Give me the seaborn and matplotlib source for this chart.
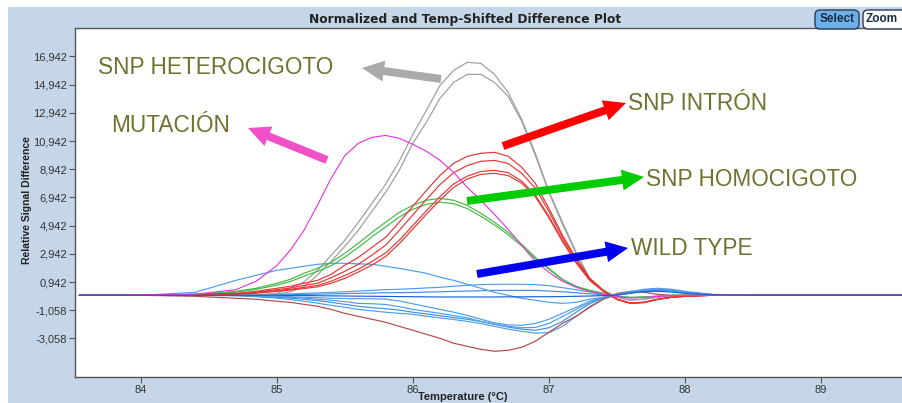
import matplotlib
matplotlib.use("Agg")
import numpy as np
import pandas as pd
import seaborn as sns
import matplotlib.pyplot as plt
from matplotlib.patches import FancyArrow, Rectangle, FancyBboxPatch
from matplotlib.transforms import IdentityTransform

# ---------------- data ----------------
temps = [83.55, 84.0, 84.4, 84.7, 84.85, 85.0, 85.1, 85.2, 85.3, 85.4, 85.5, 85.6, 85.7, 85.8,
         85.9, 86.0, 86.1, 86.2, 86.3, 86.4, 86.5, 86.6, 86.7, 86.8, 86.9, 87.0, 87.1, 87.2,
         87.3, 87.4, 87.5, 87.6, 87.7, 87.8, 87.9, 88.0, 88.2, 88.5, 89.0, 89.65]

het_1 = [0, 0, 0, 0, 40, 140, 500, 950, 1770, 2840, 3900, 5180, 6520, 7870, 9500, 11410, 13120,
         14890, 15950, 16520, 16450, 15670, 14390, 12480, 10070, 7370, 5180, 3050, 1200, 350,
         -140, -350, -280, -140, -70, 0, 0, 0, 0, 0]
het_2 = [0, 0, 0, 0, 20, 80, 250, 600, 1450, 2410, 3470, 4610, 5960, 7300, 8860, 10780, 12270,
         13970, 15100, 15670, 15670, 15100, 14110, 12340, 9930, 7300, 5030, 2980, 1130, 350,
         -140, -330, -260, -130, -60, 0, 0, 0, 0, 0]
mutacion = [0, 0, 80, 400, 1000, 2100, 3200, 4600, 6400, 8300, 9900, 10780, 11200, 11340, 11130,
            10710, 10210, 9570, 8720, 7660, 6740, 5740, 4680, 3550, 2410, 1630, 990, 570, 280,
            70, -100, -200, -150, -80, -30, 0, 0, 0, 0, 0]
homo_1 = [0, 0, 70, 280, 500, 850, 1130, 1560, 1910, 2340, 2980, 3690, 4470, 5180, 5880, 6380,
          6740, 6880, 6740, 6380, 5810, 5180, 4470, 3620, 2690, 1910, 1130, 640, 350, 140, -70,
          -150, -120, -60, 0, 0, 0, 0, 0, 0]
homo_2 = [0, 0, 50, 220, 420, 720, 980, 1350, 1700, 2100, 2700, 3400, 4150, 4850, 5550, 6100,
          6450, 6600, 6500, 6150, 5600, 5000, 4300, 3500, 2600, 1850, 1100, 620, 330, 130, -70,
          -150, -120, -60, 0, 0, 0, 0, 0, 0]
intron_1 = [0, 0, 70, 140, 280, 500, 640, 850, 1060, 1490, 2130, 2690, 3400, 4110, 5180, 6310,
            7440, 8510, 9360, 9860, 10070, 10140, 9860, 9080, 7940, 6170, 4250, 2620, 1210, 350,
            -280, -570, -500, -280, -140, -70, 0, 0, 0, 0]
intron_2 = [0, 0, 50, 110, 220, 400, 520, 700, 850, 1250, 1700, 2200, 2850, 3550, 4600, 5700,
            6800, 7850, 8700, 9200, 9500, 9570, 9350, 8650, 7600, 5950, 4100, 2500, 1150, 320,
            -280, -560, -500, -290, -140, -70, 0, 0, 0, 0]
intron_3 = [0, 0, 40, 90, 180, 330, 430, 560, 700, 1000, 1400, 1850, 2400, 3000, 3900, 4950,
            6000, 7000, 7900, 8450, 8780, 8860, 8700, 8100, 7100, 5600, 3900, 2350, 1100, 300,
            -280, -540, -480, -280, -140, -60, 0, 0, 0, 0]
intron_4 = [0, 0, 30, 70, 150, 280, 370, 480, 600, 850, 1200, 1650, 2150, 2750, 3650, 4700,
            5750, 6750, 7650, 8250, 8580, 8650, 8500, 7950, 7000, 5500, 3800, 2300, 1050, 280,
            -300, -580, -520, -300, -150, -70, 0, 0, 0, 0]
low_red = [0, 0, -70, -210, -280, -420, -500, -640, -780, -1000, -1280, -1490, -1700, -1910,
           -2200, -2480, -2770, -3050, -3400, -3620, -3830, -3970, -3900, -3690, -3260, -2620,
           -1990, -1490, -850, -280, 140, 280, 210, 70, 0, 0, 0, 0, 0, 0]
wild_1 = [0, 0, 210, 1060, 1420, 1770, 1910, 2060, 2200, 2270, 2270, 2230, 2200, 2060, 1910,
          1740, 1560, 1280, 1060, 780, 500, 210, 0, -210, -350, -500, -570, -500, -280, -140,
          70, 280, 430, 500, 430, 280, 70, 0, 0, 0]
wild_2 = [0, 0, 0, 0, 30, 70, 100, 140, 170, 210, 250, 300, 350, 400, 430, 470, 520, 570, 640,
          710, 760, 780, 780, 780, 760, 680, 540, 400, 230, 70, 20, 180, 350, 420, 350, 210, 50,
          0, 0, 0]
wild_3 = [0, 0, 0, 0, 0, 30, 40, 60, 80, 100, 120, 140, 160, 180, 190, 200, 230, 250, 280, 300,
          320, 350, 350, 350, 350, 300, 250, 180, 100, 30, 20, 150, 300, 350, 300, 180, 40, 0, 0, 0]
wild_4 = [0, 0, 0, 0, 0, 0, -10, -20, -30, -40, -50, -60, -70, -80, -90, -100, -110, -120, -120,
          -120, -120, -120, -110, -110, -100, -100, -90, -70, -50, -20, 20, 150, 260, 280, 230,
          140, 30, 0, 0, 0]
wild_5 = [0, 0, 0, 0, -30, -70, -100, -140, -170, -210, -230, -240, -250, -270, -400, -600, -800,
          -1000, -1200, -1420, -1700, -1950, -2100, -2130, -2000, -1700, -1280, -850, -420, -140,
          40, 200, 350, 420, 350, 210, 50, 0, 0, 0]
wild_6 = [0, 0, 0, 0, -50, -100, -150, -200, -280, -350, -450, -570, -600, -650, -800, -1000,
          -1140, -1280, -1440, -1600, -1850, -2050, -2200, -2300, -2280, -2000, -1500, -1000, -500,
          -150, 30, 200, 350, 420, 350, 210, 50, 0, 0, 0]
wild_7 = [0, 0, 0, -20, -70, -140, -200, -280, -380, -500, -640, -780, -880, -950, -1050, -1200,
          -1320, -1450, -1580, -1700, -1850, -2050, -2250, -2400, -2480, -2300, -1850, -1200, -600,
          -180, 20, 200, 350, 420, 350, 210, 50, 0, 0, 0]
wild_8 = [0, 0, 0, -30, -100, -200, -300, -420, -560, -710, -850, -1000, -1100, -1200, -1280,
          -1350, -1480, -1600, -1720, -1850, -2000, -2200, -2400, -2550, -2680, -2650, -2200, -1500,
          -800, -250, 0, 180, 330, 400, 330, 200, 50, 0, 0, 0]

y_ticks = [-3058, -1058, 942, 2942, 4942, 6942, 8942, 10942, 12942, 14942, 16942]
y_tick_labels = ["-3,058", "-1,058", "0,942", "2,942", "4,942", "6,942", "8,942",
                 "10,942", "12,942", "14,942", "16,942"]
x_ticks = [84, 85, 86, 87, 88, 89]

title_text = "Normalized and Temp-Shifted Difference Plot"
x_label = "Temperature (°C)"
y_label = "Relative Signal Difference"

curves = {
    "wild_8": wild_8, "wild_7": wild_7, "wild_6": wild_6, "wild_5": wild_5,
    "low_red": low_red, "wild_3": wild_3, "wild_2": wild_2, "wild_1": wild_1,
    "het_1": het_1, "het_2": het_2, "homo_1": homo_1, "homo_2": homo_2,
    "intron_1": intron_1, "intron_2": intron_2, "intron_3": intron_3, "intron_4": intron_4,
    "mutacion": mutacion, "wild_4": wild_4,
}
palette = {
    "het_1": "#9c9c9c", "het_2": "#9c9c9c", "mutacion": "#e53ae0",
    "homo_1": "#45b845", "homo_2": "#45b845",
    "intron_1": "#e83434", "intron_2": "#e83434", "intron_3": "#e83434", "intron_4": "#e83434",
    "low_red": "#b24a4a",
    "wild_1": "#4d9de8", "wild_2": "#4d9de8", "wild_3": "#3c8fe6", "wild_4": "#1a5fd6",
    "wild_5": "#4d9de8", "wild_6": "#4d9de8", "wild_7": "#3f8fe2", "wild_8": "#4d9de8",
}

rows = []
for name, vals in curves.items():
    for t, v in zip(temps, vals):
        rows.append((name, t, v))
df = pd.DataFrame(rows, columns=["curve", "temp", "value"])

# ---------------- figure ----------------
sns.set_style("white")
plt.rcParams["font.family"] = ["Liberation Sans", "DejaVu Sans"]

W, H = 903, 403
fig = plt.figure(figsize=(W / 100, H / 100), dpi=100, facecolor="white")
fig.patches.append(Rectangle((8, 0), W, H - 7, transform=IdentityTransform(),
                             facecolor="#c5d6e8", edgecolor="none", zorder=-5))

ax = fig.add_axes([75 / W, 26 / H, 835 / W, 349 / H])
ax.set_facecolor("white")
sns.lineplot(data=df, x="temp", y="value", hue="curve", palette=palette,
             hue_order=list(curves.keys()), estimator=None, sort=False,
             legend=False, linewidth=0.85, ax=ax)

ax.set_xlim(83.518, 89.653)
ax.set_ylim(-5794, 18957)
ax.set_xticks(x_ticks)
ax.set_xticklabels([str(t) for t in x_ticks])
ax.set_yticks(y_ticks)
ax.set_yticklabels(y_tick_labels)
ax.set_yticks([t + 1000 for t in y_ticks[:-1]] + [y_ticks[0] - 1000, y_ticks[-1] + 1000], minor=True)
ax.tick_params(axis="both", which="major", direction="out", length=4, width=0.8,
               color="#555555", labelsize=8, labelcolor="#333333", pad=1.5)
ax.tick_params(axis="y", which="minor", direction="out", length=2.5, width=0.7, color="#555555")
ax.tick_params(left=True, bottom=True)
for lab in ax.get_xticklabels() + ax.get_yticklabels():
    lab.set_family(["Liberation Sans Narrow", "Liberation Sans", "DejaVu Sans"])
for side in ["left", "bottom", "top"]:
    ax.spines[side].set_color("#555555")
    ax.spines[side].set_linewidth(1.0)
ax.spines["right"].set_visible(False)
ax.set_xlabel("")
ax.set_ylabel("")

fig.text(27 / W, 1 - 200 / H, y_label, rotation=90, ha="center", va="center",
         fontsize=7.5, fontweight="bold", color="#222222",
         family=["Liberation Sans Narrow", "Liberation Sans", "DejaVu Sans"])
fig.text(463 / W, 1 - 397 / H, x_label, ha="center", va="center",
         fontsize=8, fontweight="bold", color="#222222",
         family=["Liberation Sans Narrow", "Liberation Sans", "DejaVu Sans"])
fig.text(465 / W, 1 - 19 / H, title_text, ha="center", va="center",
         fontsize=8.8, fontweight="bold", color="#222222", family=["DejaVu Sans"])

# buttons
fig.patches.append(FancyBboxPatch((815, H - 29), 44, 19, boxstyle="round,pad=0,rounding_size=5",
                                  transform=IdentityTransform(), facecolor="#6eb0ea",
                                  edgecolor="#2a3a55", linewidth=1.0, zorder=3))
fig.text(837 / W, 1 - 19 / H, "Select", ha="center", va="center", fontsize=8.5,
         fontweight="bold", color="#1a2a44", zorder=4)
fig.patches.append(FancyBboxPatch((863, H - 29), 46, 19, boxstyle="round,pad=0,rounding_size=5",
                                  transform=IdentityTransform(), facecolor="white",
                                  edgecolor="#2a3a55", linewidth=1.0, zorder=3))
fig.text(866 / W, 1 - 19 / H, "Zoom", ha="left", va="center", fontsize=8.5,
         fontweight="bold", color="#1a2a44", zorder=4)

# annotation labels and arrows
label_color = "#727230"
labels = [("SNP HETEROCIGOTO", 98, 67), ("MUTACIÓN", 111, 126), ("SNP INTRÓN", 628, 104),
          ("SNP HOMOCIGOTO", 646, 180), ("WILD TYPE", 631, 249)]
for txt, x, y in labels:
    fig.text(x / W, 1 - y / H, txt, ha="left", va="center", fontsize=16.3,
             color=label_color, family=["Liberation Sans", "DejaVu Sans"], zorder=10)

arrows = [((441, 79), (362, 68), "#aaaaaa"), ((327, 160), (248, 128), "#f050c8"),
          ((503, 146), (626, 103), "#ff0000"), ((467, 201), (644, 177), "#00cc00"),
          ((477, 274), (628, 248), "#0000ee")]
for (x0, y0), (x1, y1), c in arrows:
    a = FancyArrow(x0, H - y0, x1 - x0, -(y1 - y0), width=8, head_width=21, head_length=22,
                   length_includes_head=True, transform=IdentityTransform(),
                   facecolor=c, edgecolor="none", zorder=10)
    fig.patches.append(a)

fig.savefig("out.png", dpi=100, facecolor=fig.get_facecolor())
